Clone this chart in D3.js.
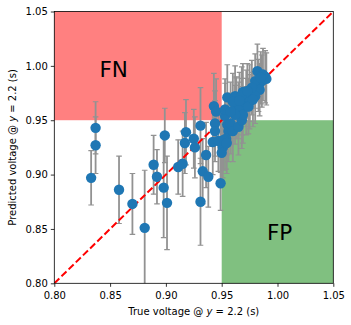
<!DOCTYPE html>
<html><head><meta charset="utf-8">
<script src="https://cdn.jsdelivr.net/npm/d3@7"></script>
<style>body{margin:0;background:#fff}svg{display:block;font-family:"DejaVu Sans",sans-serif}</style>
</head><body><div id="chart"></div>
<script>
const trueV = [0.833,0.837,0.837,0.858,0.870,0.881,0.889,0.892,0.899,0.898,0.901,0.911,0.915,0.917,0.918,0.925,0.926,0.931,0.936,0.933,0.938,0.931,0.949,0.943,0.945,0.944,0.944,0.942,0.949,0.951,0.950,0.953,0.955,0.962,0.955,0.956,0.954,0.958,0.960,0.963,0.965,0.968,0.982,0.989,0.986,0.983,0.980,0.984,0.969,0.975,0.980,0.972,0.968,0.975,0.972,0.968,0.963,0.960,0.965,0.969,0.974,0.953,0.947,0.952,0.9545,0.990,0.987,0.977,0.973,0.978,0.966,0.985,0.962,0.958];
const predV = [0.897,0.943,0.927,0.886,0.873,0.851,0.909,0.898,0.936,0.888,0.874,0.907,0.910,0.929,0.939,0.933,0.925,0.945,0.918,0.903,0.898,0.875,0.892,0.963,0.958,0.947,0.940,0.930,0.930,0.925,0.920,0.954,0.971,0.972,0.946,0.940,0.933,0.947,0.940,0.961,0.944,0.950,0.995,0.990,0.986,0.982,0.986,0.978,0.976,0.975,0.972,0.970,0.973,0.967,0.9625,0.9625,0.964,0.967,0.959,0.955,0.9625,0.960,0.931,0.932,0.929,0.988,0.992,0.980,0.977,0.969,0.968,0.989,0.955,0.958];
const predErr = [0.025,0.024,0.026,0.031,0.028,0.053,0.027,0.025,0.025,0.046,0.043,0.025,0.030,0.028,0.030,0.027,0.028,0.035,0.030,0.030,0.028,0.040,0.025,0.030,0.030,0.030,0.028,0.030,0.028,0.028,0.030,0.030,0.030,0.028,0.028,0.028,0.028,0.028,0.028,0.028,0.026,0.026,0.025,0.024,0.024,0.024,0.025,0.024,0.026,0.026,0.025,0.026,0.026,0.025,0.026,0.026,0.026,0.026,0.026,0.026,0.025,0.028,0.028,0.028,0.028,0.024,0.024,0.025,0.025,0.025,0.026,0.024,0.027,0.027];
const xTicks = [0.80,0.85,0.90,0.95,1.00,1.05];
const yTicks = [0.80,0.85,0.90,0.95,1.00,1.05];
const threshold = 0.95;

const W=351,H=325, m={l:54.3,t:11.5,r:17.7,b:41.7};
const svg=d3.select("#chart").append("svg").attr("width",W).attr("height",H);
const x=d3.scaleLinear().domain([0.80,1.05]).range([m.l,W-m.r]);
const y=d3.scaleLinear().domain([0.80,1.05]).range([H-m.b,m.t]);
const g=svg.append("g");
// regions
g.append("rect").attr("x",x(0.80)).attr("y",y(1.05)).attr("width",x(threshold)-x(0.80)).attr("height",y(threshold)-y(1.05)).attr("fill","#ff8080");
g.append("rect").attr("x",x(threshold)).attr("y",y(threshold)).attr("width",x(1.05)-x(threshold)).attr("height",y(0.80)-y(threshold)).attr("fill","#80c080");
g.append("text").attr("x",x(0.8405)).attr("y",y(0.9898)).attr("font-size",21.5).attr("fill","#000").text("FN");
g.append("text").attr("x",x(0.9905)).attr("y",y(0.8398)).attr("font-size",21.5).attr("fill","#000").text("FP");
// clip
svg.append("clipPath").attr("id","clip").append("rect").attr("x",m.l).attr("y",m.t).attr("width",W-m.l-m.r).attr("height",H-m.t-m.b);
const data=trueV.map((t,i)=>({t,p:predV[i],e:predErr[i]}));
const eb=svg.append("g").attr("clip-path","url(#clip)");
data.forEach(d=>{
  const gg=eb.append("g").attr("stroke","#929292").attr("stroke-width",1.8);
  gg.append("line").attr("x1",x(d.t)).attr("x2",x(d.t)).attr("y1",y(d.p-d.e)).attr("y2",y(d.p+d.e));
  [d.p-d.e,d.p+d.e].forEach(v=>gg.append("line").attr("x1",x(d.t)-2.8).attr("x2",x(d.t)+2.8).attr("y1",y(v)).attr("y2",y(v)).attr("stroke-width",1.2));
});
svg.append("line").attr("clip-path","url(#clip)").attr("x1",x(0.80)).attr("y1",y(0.80)).attr("x2",x(1.05)).attr("y2",y(1.05)).attr("stroke","#ff0000").attr("stroke-width",2).attr("stroke-dasharray","7,3");
svg.append("g").attr("clip-path","url(#clip)").selectAll("circle").data(data).join("circle")
  .attr("cx",d=>x(d.t)).attr("cy",d=>y(d.p)).attr("r",5.2).attr("fill","#1f77b4");
// axes
const xa=svg.append("g").attr("transform",`translate(0,${H-m.b})`).call(d3.axisBottom(x).tickValues(xTicks).tickFormat(d3.format(".2f")).tickSizeOuter(0).tickSize(3.5));
const ya=svg.append("g").attr("transform",`translate(${m.l},0)`).call(d3.axisLeft(y).tickValues(yTicks).tickFormat(d3.format(".2f")).tickSizeOuter(0).tickSize(3.5));
[xa,ya].forEach(a=>{a.selectAll("text").attr("font-size",10).attr("fill","#000").attr("font-family","DejaVu Sans");a.selectAll("line").attr("stroke","#000").attr("stroke-width",0.8);a.select(".domain").remove();});
xa.selectAll("text").attr("dy","0.95em");
svg.append("rect").attr("x",m.l).attr("y",m.t).attr("width",W-m.l-m.r).attr("height",H-m.t-m.b).attr("fill","none").attr("stroke","#000").attr("stroke-width",0.8);
const xl=svg.append("text").attr("x",(m.l+W-m.r)/2).attr("y",315).attr("text-anchor","middle").attr("font-size",10);
xl.append("tspan").text("True voltage @ ");xl.append("tspan").attr("font-style","italic").text("y");xl.append("tspan").text(" = 2.2 (s)");
const yl=svg.append("text").attr("transform",`translate(16,${(m.t+H-m.b)/2}) rotate(-90)`).attr("text-anchor","middle").attr("font-size",10);
yl.append("tspan").text("Predicted voltage @ ");yl.append("tspan").attr("font-style","italic").text("y");yl.append("tspan").text(" = 2.2 (s)");
</script></body></html>
